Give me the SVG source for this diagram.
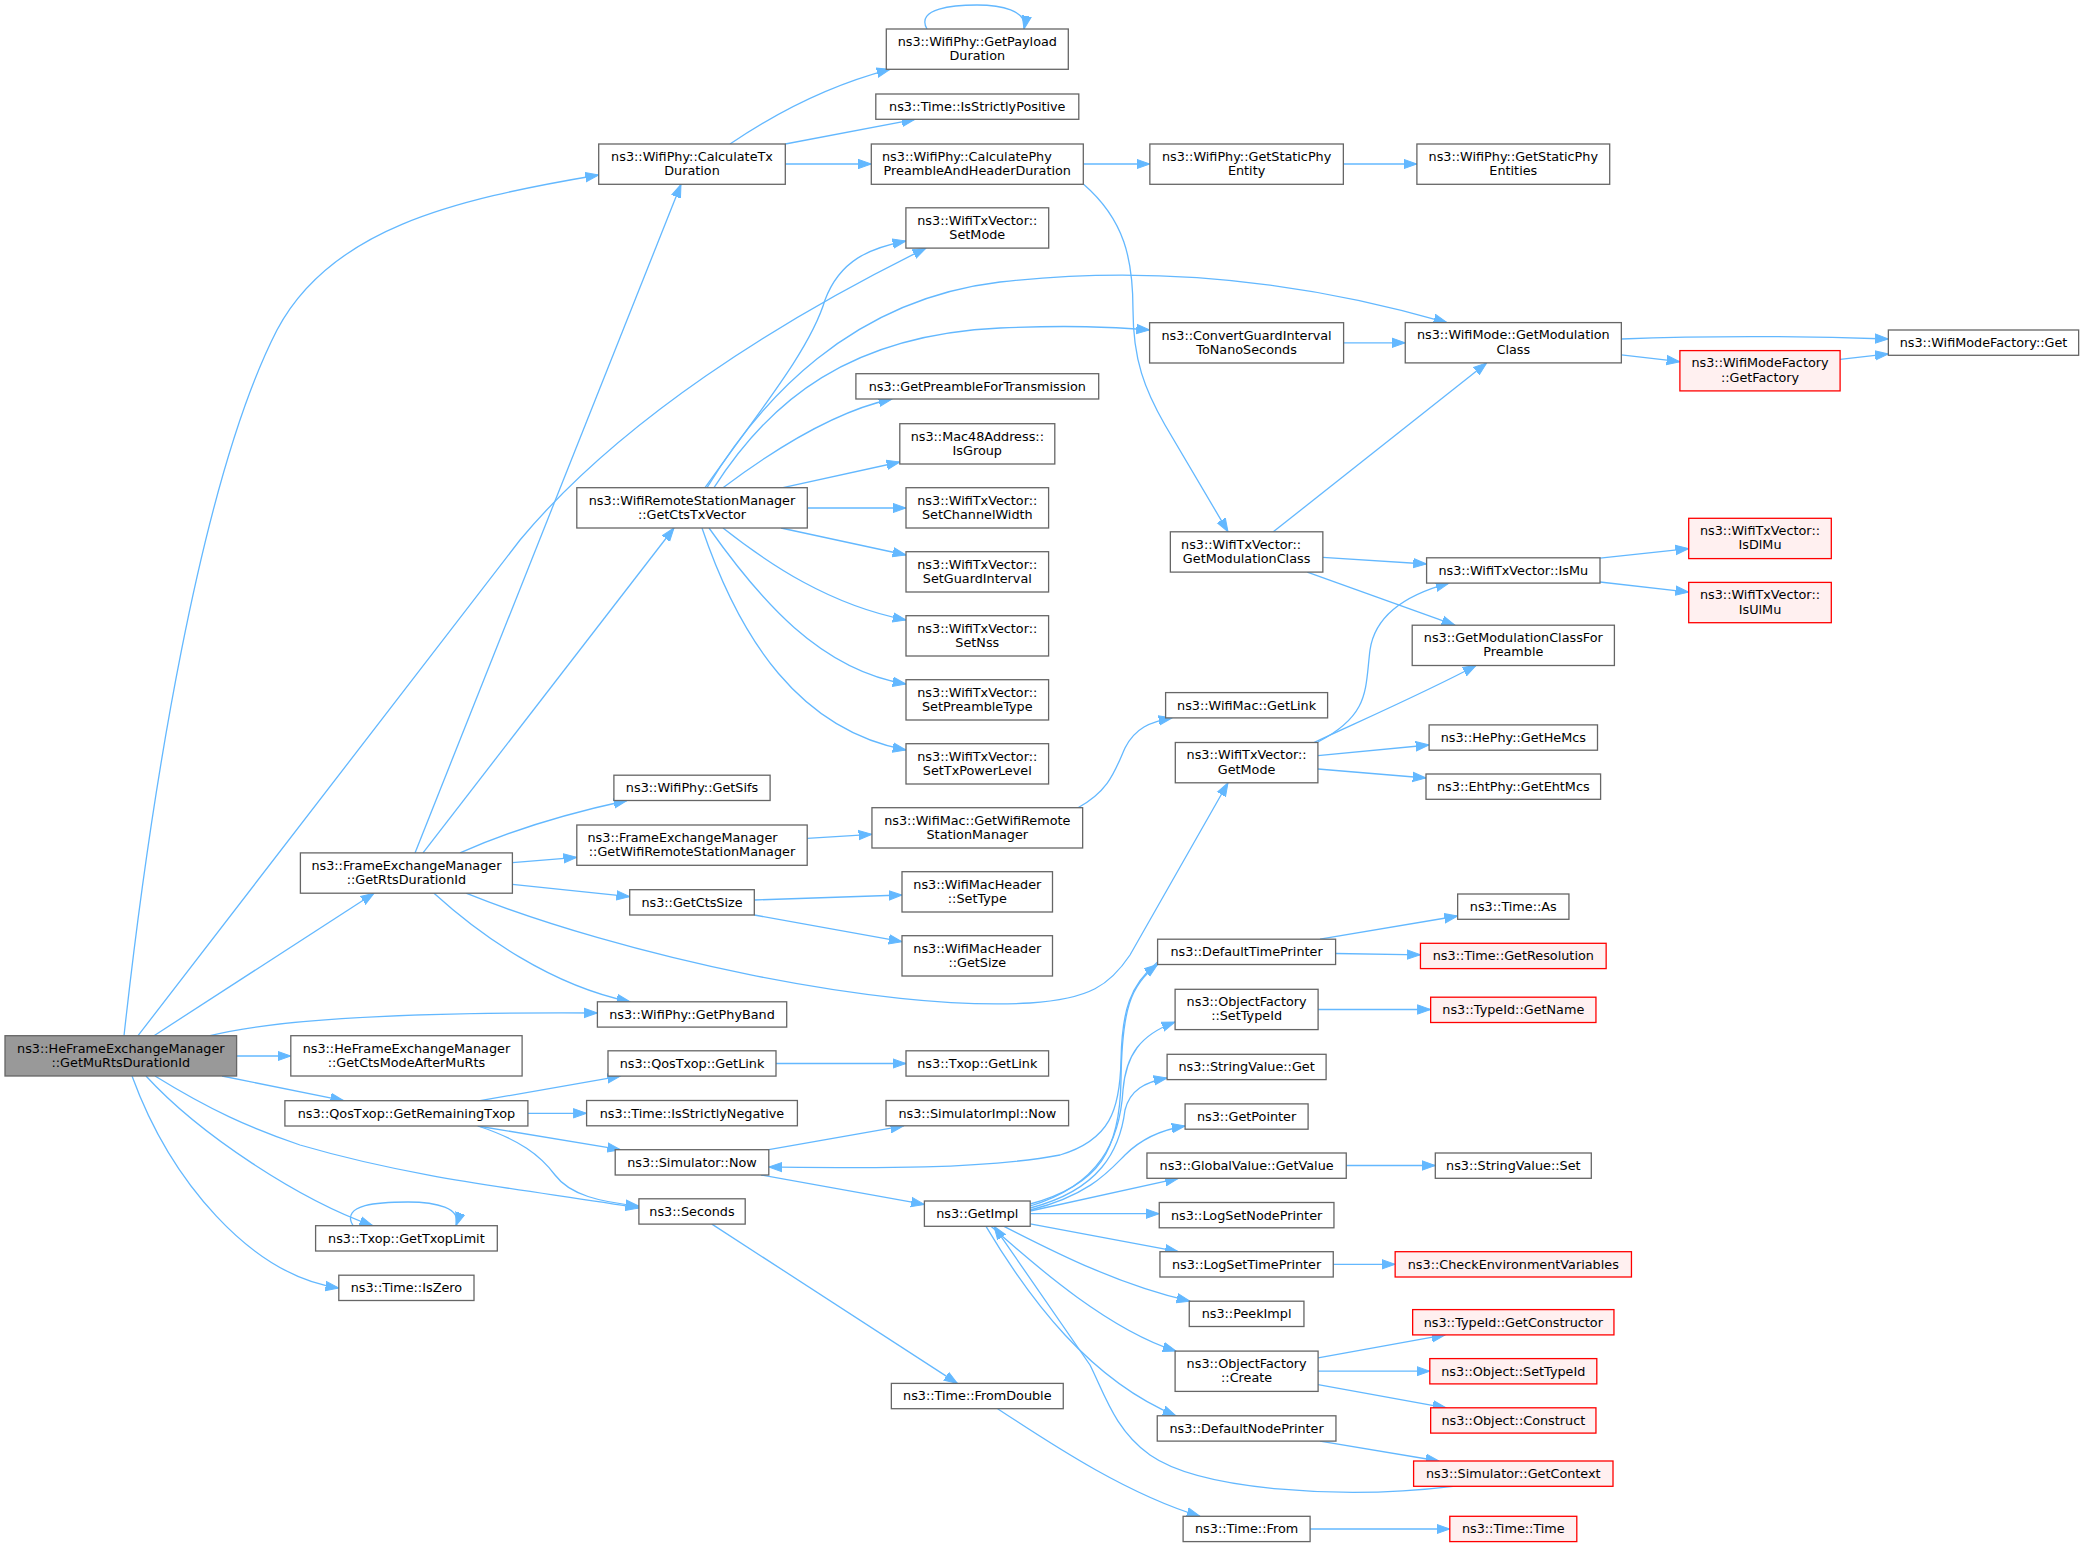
<svg xmlns="http://www.w3.org/2000/svg" width="2085" height="1547" viewBox="0 0 2085 1547">
<defs>
<marker id="a" markerUnits="userSpaceOnUse" markerWidth="15" markerHeight="12" refX="13.3" refY="5" orient="auto" viewBox="0 0 15 10">
<path d="M0,0.3 L13.3,5 L0,9.7 z" fill="#63b8ff" stroke="#63b8ff" stroke-width="1"/>
</marker>
<style>
.node rect{fill:#ffffff;stroke:#666666;stroke-width:1.3}
.main rect{fill:#999999}
.red rect{fill:#fff0f0;stroke:#ff0000}
text{font-family:"DejaVu Sans","Liberation Sans",sans-serif;font-size:12.8px;text-anchor:middle;fill:#000000}
text.l{text-anchor:start}
#edges path{fill:none;stroke:#63b8ff;stroke-width:1.3;marker-end:url(#a)}
</style>
</defs>
<rect x="0" y="0" width="2085" height="1547" fill="#ffffff"/>
<g id="edges">
<path d="M124,1035.7 C150,800 200,480 277,330 C330,230 450,200 598.7,175"/>
<path d="M138,1035.7 L520,540 C620,420 780,320 926,248.1"/>
<path d="M154,1035.7 L374,893.2"/>
<path d="M210,1035.7 C280,1018 420,1012 597.4,1013"/>
<path d="M236.6,1056 L290.8,1056"/>
<path d="M222,1076 L343.8,1100.7"/>
<path d="M155,1076 C210,1110 250,1128 300,1145 C420,1180 530,1190 638.9,1208"/>
<path d="M146,1076 C200,1135 300,1200 372.8,1225.7"/>
<path d="M132,1076 C170,1180 250,1275 338.8,1288"/>
<path d="M353,1225.7 C340,1204 380,1202 408,1202 C436,1202 462,1208 456,1225.7"/>
<path d="M927,29 C915,8 955,5 977,5 C1000,5 1028,10 1024,29"/>
<path d="M415,852.9 L681,184.3"/>
<path d="M423,852.9 L674,528"/>
<path d="M460,852.9 C500,835 560,815 627,800.5"/>
<path d="M512.4,862.7 L576.8,857.3"/>
<path d="M512.4,884.3 L629.7,896.7"/>
<path d="M434,893.2 C480,935 550,985 630,1001.8"/>
<path d="M466,893.2 C620,955 880,1012 1030,1003 C1090,999 1110,985 1130,955 L1228,782.8"/>
<path d="M705,487.7 C760,410 810,350 825,300 C840,260 870,248 905.9,241"/>
<path d="M707,487.7 C760,400 850,300 1000,282 C1150,265 1300,280 1447,322.6"/>
<path d="M714,487.7 C770,400 850,335 1000,328 C1070,325 1110,327 1149.6,330"/>
<path d="M723,487.7 C780,445 840,410 892,399"/>
<path d="M783,487.7 L899.8,462"/>
<path d="M807.3,508 L906,508"/>
<path d="M781,528 L906,555"/>
<path d="M723,528 C770,565 830,605 906,620"/>
<path d="M709,528 C760,600 820,670 906,684"/>
<path d="M702,528 C740,640 800,730 906,750"/>
<path d="M730,144 C780,110 830,85 890,69.3"/>
<path d="M785.3,144 L915,119.3"/>
<path d="M785.3,164 L871.3,164"/>
<path d="M1083.3,164 L1149.85,164"/>
<path d="M1083.3,184 C1125,220 1133,260 1133,310 C1133,360 1145,390 1165,425 L1228,531.8"/>
<path d="M1343.35,164 L1416.9,164"/>
<path d="M1343.6,342.8 L1405.25,342.8"/>
<path d="M1621.35,339 C1700,336 1800,336 1888.35,339"/>
<path d="M1621.35,354.8 L1679.9,361.7"/>
<path d="M1840.1,359.4 L1888.35,353.9"/>
<path d="M1273.3,531.8 L1486.7,362.9"/>
<path d="M1322.85,557.3 L1426.6,564"/>
<path d="M1307.3,572.1 L1455,625.2"/>
<path d="M1600,558.2 L1688.7,548.6"/>
<path d="M1600,582 L1688.7,592.2"/>
<path d="M1318,742 C1370,715 1365,690 1370,650 C1375,615 1405,595 1449,583.1"/>
<path d="M1314,742.5 C1380,712 1430,690 1476,665.5"/>
<path d="M1317.9,755.6 L1429.1,745"/>
<path d="M1317.9,769 L1426,778"/>
<path d="M807.2,838.3 L871.95,834.3"/>
<path d="M1078,807.7 C1110,790 1115,770 1125,748 C1135,728 1150,722 1172,717.9"/>
<path d="M754.3,900 L902,895"/>
<path d="M754.3,915 L902,941.7"/>
<path d="M480,1100.7 L620.5,1076.1"/>
<path d="M527.9,1113.3 L586.6,1113.3"/>
<path d="M477.7,1126 L620.5,1149.7"/>
<path d="M478,1126 C520,1140 540,1155 555,1175 C570,1195 600,1202 638.9,1206"/>
<path d="M776,1063.5 L906,1063.5"/>
<path d="M768.8,1149.7 L903.8,1125.8"/>
<path d="M761,1175 L924.4,1204.4"/>
<path d="M1157.6,962 C1130,985 1122,1010 1121,1060 C1120,1110 1110,1140 1060,1155 C980,1170 860,1168 768.8,1167"/>
<path d="M1030.2,1204 C1100,1185 1120,1150 1121,1080 C1122,1010 1130,985 1157.6,964.5"/>
<path d="M1030.2,1206 C1100,1185 1120,1140 1123,1090 C1126,1055 1140,1035 1175.1,1022"/>
<path d="M1030.2,1208 C1100,1190 1120,1150 1125,1110 C1130,1090 1145,1082 1167.1,1078"/>
<path d="M1030.2,1210 C1090,1195 1110,1170 1125,1155 C1140,1140 1160,1130 1185.1,1126"/>
<path d="M1030.2,1211 L1178.4,1178.3"/>
<path d="M1030.2,1213.7 L1159.25,1213.7"/>
<path d="M1030.2,1223.8 L1178.4,1251.7"/>
<path d="M1004,1226.3 C1060,1255 1120,1285 1190,1301.2"/>
<path d="M991,1226.3 C1040,1270 1110,1330 1176,1351.1"/>
<path d="M986,1226.3 C1030,1300 1090,1380 1176,1415.8"/>
<path d="M1453,1486.3 C1340,1500 1200,1490 1150,1455 C1115,1430 1105,1395 1090,1365 L994,1226.3"/>
<path d="M1320,1441.1 L1439,1461"/>
<path d="M1318.1,1009.5 L1430.65,1009.5"/>
<path d="M1320,939.2 L1457.65,916"/>
<path d="M1335.6,953.5 L1420.45,954.8"/>
<path d="M1346.25,1165.5 L1435.3,1165.5"/>
<path d="M1333.25,1264.3 L1395.15,1264.3"/>
<path d="M1318.1,1357.8 L1445,1334.9"/>
<path d="M1318.1,1371.2 L1429.8,1371.2"/>
<path d="M1318.1,1384.6 L1446,1407.8"/>
<path d="M711.9,1224.1 L957.4,1383.4"/>
<path d="M997.6,1408.7 C1060,1450 1130,1495 1200,1516.3"/>
<path d="M1310.1,1529 L1449.8,1529"/>
</g>
<g id="n_main" class="node main"><rect x="5" y="1035.7" width="231.6" height="40.3"/><text x="120.8" y="1052.55">ns3::HeFrameExchangeManager</text><text x="120.8" y="1066.85">::GetMuRtsDurationId</text></g>
<g id="n_rts" class="node"><rect x="300.4" y="852.9" width="212" height="40.3"/><text x="406.4" y="869.75">ns3::FrameExchangeManager</text><text x="406.4" y="884.05">::GetRtsDurationId</text></g>
<g id="n_ctsmode" class="node"><rect x="290.8" y="1035.7" width="231.3" height="40.3"/><text x="406.4" y="1052.55">ns3::HeFrameExchangeManager</text><text x="406.4" y="1066.85">::GetCtsModeAfterMuRts</text></g>
<g id="n_remtxop" class="node"><rect x="284.9" y="1100.7" width="243" height="25.3"/><text x="406.4" y="1117.75">ns3::QosTxop::GetRemainingTxop</text></g>
<g id="n_txoplimit" class="node"><rect x="315.6" y="1225.7" width="181.7" height="25.3"/><text x="406.4" y="1242.75">ns3::Txop::GetTxopLimit</text></g>
<g id="n_iszero" class="node"><rect x="338.8" y="1275.2" width="135.2" height="25.3"/><text x="406.4" y="1292.25">ns3::Time::IsZero</text></g>
<g id="n_calctx" class="node"><rect x="598.7" y="144" width="186.6" height="40.3"/><text x="692" y="160.85">ns3::WifiPhy::CalculateTx</text><text x="692" y="175.15">Duration</text></g>
<g id="n_ctstxv" class="node"><rect x="576.8" y="487.7" width="230.5" height="40.3"/><text x="692" y="504.55">ns3::WifiRemoteStationManager</text><text x="692" y="518.85">::GetCtsTxVector</text></g>
<g id="n_sifs" class="node"><rect x="613.9" y="775.2" width="156.2" height="25.3"/><text x="692" y="792.25">ns3::WifiPhy::GetSifs</text></g>
<g id="n_femwrsm" class="node"><rect x="576.8" y="825" width="230.4" height="40.3"/><text class="l" x="587.5" y="841.85">ns3::FrameExchangeManager</text><text x="692" y="856.15">::GetWifiRemoteStationManager</text></g>
<g id="n_ctssize" class="node"><rect x="629.7" y="889.7" width="124.6" height="25.3"/><text x="692" y="906.75">ns3::GetCtsSize</text></g>
<g id="n_phyband" class="node"><rect x="597.4" y="1001.8" width="189.3" height="25.3"/><text x="692" y="1018.85">ns3::WifiPhy::GetPhyBand</text></g>
<g id="n_qoslink" class="node"><rect x="608" y="1050.8" width="168" height="25.3"/><text x="692" y="1067.85">ns3::QosTxop::GetLink</text></g>
<g id="n_isneg" class="node"><rect x="586.6" y="1100.5" width="210.8" height="25.3"/><text x="692" y="1117.55">ns3::Time::IsStrictlyNegative</text></g>
<g id="n_simnow" class="node"><rect x="615.2" y="1149.7" width="153.6" height="25.3"/><text x="692" y="1166.75">ns3::Simulator::Now</text></g>
<g id="n_seconds" class="node"><rect x="638.9" y="1198.8" width="106.3" height="25.3"/><text x="692" y="1215.85">ns3::Seconds</text></g>
<g id="n_payload" class="node"><rect x="886.3" y="29" width="182" height="40.3"/><text x="977.3" y="45.85">ns3::WifiPhy::GetPayload</text><text x="977.3" y="60.15">Duration</text></g>
<g id="n_ispos" class="node"><rect x="875.8" y="94" width="203" height="25.3"/><text x="977.3" y="111.05">ns3::Time::IsStrictlyPositive</text></g>
<g id="n_calcphy" class="node"><rect x="871.3" y="144" width="212" height="40.3"/><text class="l" x="882" y="160.85">ns3::WifiPhy::CalculatePhy</text><text x="977.3" y="175.15">PreambleAndHeaderDuration</text></g>
<g id="n_setmode" class="node"><rect x="905.9" y="207.8" width="142.8" height="40.3"/><text x="977.3" y="224.65">ns3::WifiTxVector::</text><text x="977.3" y="238.95">SetMode</text></g>
<g id="n_preamble" class="node"><rect x="855.9" y="373.7" width="242.8" height="25.3"/><text x="977.3" y="390.75">ns3::GetPreambleForTransmission</text></g>
<g id="n_isgroup" class="node"><rect x="899.8" y="423.7" width="155" height="40.3"/><text x="977.3" y="440.55">ns3::Mac48Address::</text><text x="977.3" y="454.85">IsGroup</text></g>
<g id="n_setcw" class="node"><rect x="906" y="487.7" width="142.6" height="40.3"/><text x="977.3" y="504.55">ns3::WifiTxVector::</text><text x="977.3" y="518.85">SetChannelWidth</text></g>
<g id="n_setgi" class="node"><rect x="906" y="551.7" width="142.6" height="40.3"/><text x="977.3" y="568.55">ns3::WifiTxVector::</text><text x="977.3" y="582.85">SetGuardInterval</text></g>
<g id="n_setnss" class="node"><rect x="906" y="615.7" width="142.6" height="40.3"/><text x="977.3" y="632.55">ns3::WifiTxVector::</text><text x="977.3" y="646.85">SetNss</text></g>
<g id="n_setpt" class="node"><rect x="906" y="679.7" width="142.6" height="40.3"/><text x="977.3" y="696.55">ns3::WifiTxVector::</text><text x="977.3" y="710.85">SetPreambleType</text></g>
<g id="n_settpl" class="node"><rect x="906" y="743.7" width="142.6" height="40.3"/><text x="977.3" y="760.55">ns3::WifiTxVector::</text><text x="977.3" y="774.85">SetTxPowerLevel</text></g>
<g id="n_macwrsm" class="node"><rect x="871.95" y="807.7" width="210.7" height="40.3"/><text x="977.3" y="824.55">ns3::WifiMac::GetWifiRemote</text><text x="977.3" y="838.85">StationManager</text></g>
<g id="n_settype" class="node"><rect x="902" y="871.7" width="150.5" height="40.3"/><text x="977.3" y="888.55">ns3::WifiMacHeader</text><text x="977.3" y="902.85">::SetType</text></g>
<g id="n_getsize" class="node"><rect x="902" y="935.7" width="150.5" height="40.3"/><text x="977.3" y="952.55">ns3::WifiMacHeader</text><text x="977.3" y="966.85">::GetSize</text></g>
<g id="n_txoplink" class="node"><rect x="906" y="1050.8" width="142.6" height="25.3"/><text x="977.3" y="1067.85">ns3::Txop::GetLink</text></g>
<g id="n_simimplnow" class="node"><rect x="886" y="1100.5" width="182.6" height="25.3"/><text x="977.3" y="1117.55">ns3::SimulatorImpl::Now</text></g>
<g id="n_getimpl" class="node"><rect x="924.4" y="1201" width="105.8" height="25.3"/><text x="977.3" y="1218.05">ns3::GetImpl</text></g>
<g id="n_fromdouble" class="node"><rect x="891.35" y="1383.4" width="171.9" height="25.3"/><text x="977.3" y="1400.45">ns3::Time::FromDouble</text></g>
<g id="n_staticent" class="node"><rect x="1149.85" y="144" width="193.5" height="40.3"/><text x="1246.6" y="160.85">ns3::WifiPhy::GetStaticPhy</text><text x="1246.6" y="175.15">Entity</text></g>
<g id="n_convgi" class="node"><rect x="1149.6" y="322.7" width="194" height="40.3"/><text x="1246.6" y="339.55">ns3::ConvertGuardInterval</text><text x="1246.6" y="353.85">ToNanoSeconds</text></g>
<g id="n_txvmodcls" class="node"><rect x="1170.35" y="531.8" width="152.5" height="40.3"/><text class="l" x="1181.05" y="548.65">ns3::WifiTxVector::</text><text x="1246.6" y="562.95">GetModulationClass</text></g>
<g id="n_maclink" class="node"><rect x="1165.6" y="692.6" width="162" height="25.3"/><text x="1246.6" y="709.65">ns3::WifiMac::GetLink</text></g>
<g id="n_getmode" class="node"><rect x="1175.3" y="742.5" width="142.6" height="40.3"/><text x="1246.6" y="759.35">ns3::WifiTxVector::</text><text x="1246.6" y="773.65">GetMode</text></g>
<g id="n_deftp" class="node"><rect x="1157.6" y="939.2" width="178" height="25.3"/><text x="1246.6" y="956.25">ns3::DefaultTimePrinter</text></g>
<g id="n_ofsettid" class="node"><rect x="1175.1" y="989.3" width="143" height="40.3"/><text x="1246.6" y="1006.15">ns3::ObjectFactory</text><text x="1246.6" y="1020.45">::SetTypeId</text></g>
<g id="n_svget" class="node"><rect x="1167.1" y="1054.3" width="159" height="25.3"/><text x="1246.6" y="1071.35">ns3::StringValue::Get</text></g>
<g id="n_getptr" class="node"><rect x="1185.1" y="1103.9" width="123" height="25.3"/><text x="1246.6" y="1120.95">ns3::GetPointer</text></g>
<g id="n_gvget" class="node"><rect x="1146.95" y="1153" width="199.3" height="25.3"/><text x="1246.6" y="1170.05">ns3::GlobalValue::GetValue</text></g>
<g id="n_lsnp" class="node"><rect x="1159.25" y="1202.5" width="174.7" height="25.3"/><text x="1246.6" y="1219.55">ns3::LogSetNodePrinter</text></g>
<g id="n_lstp" class="node"><rect x="1159.95" y="1251.7" width="173.3" height="25.3"/><text x="1246.6" y="1268.75">ns3::LogSetTimePrinter</text></g>
<g id="n_peek" class="node"><rect x="1189.25" y="1301.2" width="114.7" height="25.3"/><text x="1246.6" y="1318.25">ns3::PeekImpl</text></g>
<g id="n_ofcreate" class="node"><rect x="1175.1" y="1351.1" width="143" height="40.3"/><text x="1246.6" y="1367.95">ns3::ObjectFactory</text><text x="1246.6" y="1382.25">::Create</text></g>
<g id="n_defnp" class="node"><rect x="1157.25" y="1415.8" width="178.7" height="25.3"/><text x="1246.6" y="1432.85">ns3::DefaultNodePrinter</text></g>
<g id="n_timefrom" class="node"><rect x="1183.1" y="1516.3" width="127" height="25.3"/><text x="1246.6" y="1533.35">ns3::Time::From</text></g>
<g id="n_staticents" class="node"><rect x="1416.9" y="144" width="192.8" height="40.3"/><text x="1513.3" y="160.85">ns3::WifiPhy::GetStaticPhy</text><text x="1513.3" y="175.15">Entities</text></g>
<g id="n_modcls" class="node"><rect x="1405.25" y="322.6" width="216.1" height="40.3"/><text x="1513.3" y="339.45">ns3::WifiMode::GetModulation</text><text x="1513.3" y="353.75">Class</text></g>
<g id="n_ismu" class="node"><rect x="1426.6" y="557.8" width="173.4" height="25.3"/><text x="1513.3" y="574.85">ns3::WifiTxVector::IsMu</text></g>
<g id="n_mcfp" class="node"><rect x="1412.2" y="625.2" width="202.2" height="40.3"/><text x="1513.3" y="642.05">ns3::GetModulationClassFor</text><text x="1513.3" y="656.35">Preamble</text></g>
<g id="n_hemcs" class="node"><rect x="1429.1" y="724.9" width="168.4" height="25.3"/><text x="1513.3" y="741.95">ns3::HePhy::GetHeMcs</text></g>
<g id="n_ehtmcs" class="node"><rect x="1426" y="774" width="174.6" height="25.3"/><text x="1513.3" y="791.05">ns3::EhtPhy::GetEhtMcs</text></g>
<g id="n_timeas" class="node"><rect x="1457.65" y="894" width="111.3" height="25.3"/><text x="1513.3" y="911.05">ns3::Time::As</text></g>
<g id="n_getres" class="node red"><rect x="1420.45" y="943.3" width="185.7" height="25.3"/><text x="1513.3" y="960.35">ns3::Time::GetResolution</text></g>
<g id="n_getname" class="node red"><rect x="1430.65" y="997.2" width="165.3" height="25.3"/><text x="1513.3" y="1014.25">ns3::TypeId::GetName</text></g>
<g id="n_svset" class="node"><rect x="1435.3" y="1153" width="156" height="25.3"/><text x="1513.3" y="1170.05">ns3::StringValue::Set</text></g>
<g id="n_checkenv" class="node red"><rect x="1395.15" y="1251.7" width="236.3" height="25.3"/><text x="1513.3" y="1268.75">ns3::CheckEnvironmentVariables</text></g>
<g id="n_getctor" class="node red"><rect x="1412.65" y="1309.6" width="201.3" height="25.3"/><text x="1513.3" y="1326.65">ns3::TypeId::GetConstructor</text></g>
<g id="n_objsettid" class="node red"><rect x="1429.8" y="1358.6" width="167" height="25.3"/><text x="1513.3" y="1375.65">ns3::Object::SetTypeId</text></g>
<g id="n_construct" class="node red"><rect x="1430.65" y="1407.8" width="165.3" height="25.3"/><text x="1513.3" y="1424.85">ns3::Object::Construct</text></g>
<g id="n_getctx" class="node red"><rect x="1413.6" y="1461" width="199.4" height="25.3"/><text x="1513.3" y="1478.05">ns3::Simulator::GetContext</text></g>
<g id="n_timetime" class="node red"><rect x="1449.8" y="1516.3" width="127" height="25.3"/><text x="1513.3" y="1533.35">ns3::Time::Time</text></g>
<g id="n_getfactory" class="node red"><rect x="1679.9" y="350.6" width="160.2" height="40.3"/><text x="1760" y="367.45">ns3::WifiModeFactory</text><text x="1760" y="381.75">::GetFactory</text></g>
<g id="n_isdlmu" class="node red"><rect x="1688.7" y="518.3" width="142.6" height="40.3"/><text x="1760" y="535.15">ns3::WifiTxVector::</text><text x="1760" y="549.45">IsDlMu</text></g>
<g id="n_isulmu" class="node red"><rect x="1688.7" y="582.4" width="142.6" height="40.3"/><text x="1760" y="599.25">ns3::WifiTxVector::</text><text x="1760" y="613.55">IsUlMu</text></g>
<g id="n_mfget" class="node"><rect x="1888.35" y="330" width="190.3" height="25.3"/><text x="1983.5" y="347.05">ns3::WifiModeFactory::Get</text></g>
</svg>
